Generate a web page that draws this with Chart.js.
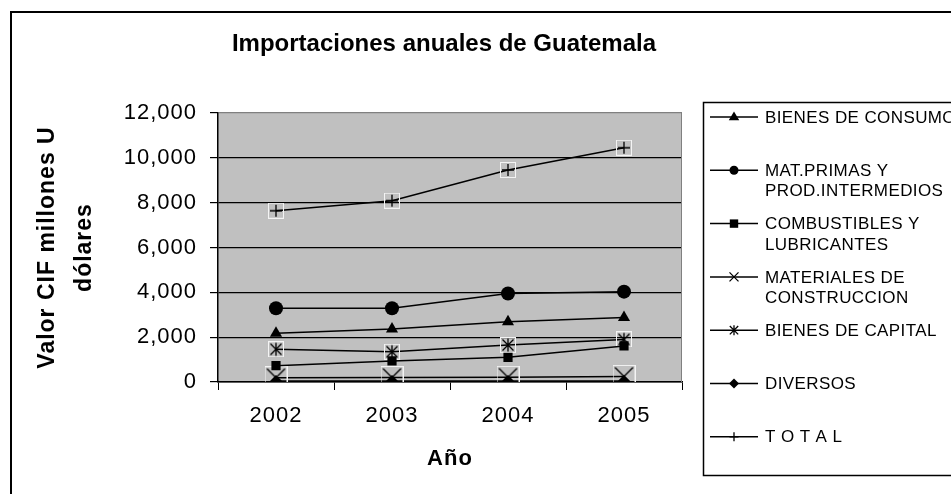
<!DOCTYPE html>
<html>
<head>
<meta charset="utf-8">
<script src="https://cdn.jsdelivr.net/npm/chart.js@4.4.1/dist/chart.umd.min.js"></script>
<style>
  html, body { margin: 0; padding: 0; background: #fff; }
  #wrap { width: 951px; height: 494px; }
</style>
</head>
<body>
<div id="wrap"><canvas id="c" width="951" height="494"></canvas></div>
<script>
// Importaciones CIF de Guatemala, millones de US$
const years = ['2002', '2003', '2004', '2005'];
const bienesConsumo = [2170, 2360, 2690, 2880];
const matPrimas = [3290, 3290, 3950, 4030];
const combustibles = [730, 940, 1100, 1610];
const materialesConstruccion = [190, 200, 210, 250];
const bienesCapital = [1460, 1350, 1650, 1900];
const diversos = [40, 40, 45, 50];
const total = [7640, 8090, 9460, 10450];

const seriesLabels = [
  ['BIENES DE CONSUMO'],
  ['MAT.PRIMAS Y', 'PROD.INTERMEDIOS'],
  ['COMBUSTIBLES Y', 'LUBRICANTES'],
  ['MATERIALES DE', 'CONSTRUCCION'],
  ['BIENES DE CAPITAL'],
  ['DIVERSOS'],
  ['T O T A L']
];
const yTicks = [0, 2000, 4000, 6000, 8000, 10000, 12000];

const FONT = "'Liberation Sans', Arial, sans-serif";

// glyphs used both for the plot markers and the legend keys
function glyph(ctx, kind, x, y, s) {
  ctx.save();
  ctx.fillStyle = '#000';
  ctx.strokeStyle = '#000';
  ctx.lineWidth = 1.3;
  ctx.beginPath();
  if (kind === 'plus') {
    ctx.moveTo(x - s, y); ctx.lineTo(x + s, y);
    ctx.moveTo(x, y - s); ctx.lineTo(x, y + s);
    ctx.stroke();
  } else if (kind === 'x') {
    ctx.moveTo(x - s, y - s); ctx.lineTo(x + s, y + s);
    ctx.moveTo(x + s, y - s); ctx.lineTo(x - s, y + s);
    ctx.stroke();
  } else if (kind === 'star') {
    ctx.moveTo(x - s, y - s); ctx.lineTo(x + s, y + s);
    ctx.moveTo(x + s, y - s); ctx.lineTo(x - s, y + s);
    ctx.moveTo(x, y - s * 1.2); ctx.lineTo(x, y + s * 1.2);
    ctx.stroke();
  } else if (kind === 'triangle') {
    ctx.moveTo(x, y - s); ctx.lineTo(x + s * 0.95, y + s * 0.6); ctx.lineTo(x - s * 0.95, y + s * 0.6);
    ctx.closePath(); ctx.fill();
  } else if (kind === 'circle') {
    ctx.arc(x, y, s, 0, Math.PI * 2); ctx.fill();
  } else if (kind === 'square') {
    ctx.fillRect(x - s, y - s, s * 2, s * 2);
  } else if (kind === 'diamond') {
    ctx.moveTo(x, y - s); ctx.lineTo(x + s, y); ctx.lineTo(x, y + s); ctx.lineTo(x - s, y);
    ctx.closePath(); ctx.fill();
  }
  ctx.restore();
}

// marker image: light square frame around a line glyph
function boxedMarker(size, kind, s) {
  const c = document.createElement('canvas');
  c.width = size; c.height = size;
  const g = c.getContext('2d');
  g.strokeStyle = '#f4f4f4';
  g.lineWidth = 1;
  g.strokeRect(0.5, 0.5, size - 1, size - 1);
  glyph(g, kind, size / 2, size / 2, s);
  return c;
}

const plusMarker = boxedMarker(16, 'plus', 6);
const xMarker = boxedMarker(23, 'x', 9);
const starMarker = boxedMarker(16, 'star', 5.5);

function series(label, data, style, radius, legendKind, legendSize) {
  return {
    label, data,
    borderColor: '#000', backgroundColor: '#000', borderWidth: 1.5,
    pointStyle: style, pointRadius: radius, pointHoverRadius: radius,
    pointBorderWidth: 0, pointBackgroundColor: '#000', pointBorderColor: '#000',
    tension: 0, fill: false,
    legendKind, legendSize
  };
}

const datasets = [
  series(seriesLabels[0].join(' '), bienesConsumo, 'triangle', 7, 'triangle', 5.5),
  series(seriesLabels[1].join(' '), matPrimas, 'circle', 7, 'circle', 4.5),
  series(seriesLabels[2].join(' '), combustibles, 'rect', 6.5, 'square', 4.2),
  series(seriesLabels[3].join(' '), materialesConstruccion, xMarker, 11, 'x', 4.5),
  series(seriesLabels[4].join(' '), bienesCapital, starMarker, 8, 'star', 4.2),
  series(seriesLabels[5].join(' '), diversos, 'rectRot', 6, 'diamond', 5),
  series(seriesLabels[6].join(' '), total, plusMarker, 8, 'plus', 4.5)
];

const frame = {
  id: 'frame',
  beforeDraw(chart) {
    const { ctx, chartArea: a } = chart;
    ctx.save();
    ctx.fillStyle = '#fff';
    ctx.fillRect(0, 0, chart.width, chart.height);
    ctx.fillStyle = '#c0c0c0';
    ctx.fillRect(a.left, a.top, a.right - a.left, a.bottom - a.top);
    ctx.restore();
    // slightly open tracking for the axis texts
    ctx.letterSpacing = '1px';
  },
  beforeDatasetsDraw(chart) {
    const { ctx, chartArea: a } = chart;
    ctx.save();
    ctx.strokeStyle = '#808080';
    ctx.lineWidth = 1;
    ctx.beginPath();
    ctx.moveTo(a.right - 0.5, a.top);
    ctx.lineTo(a.right - 0.5, a.bottom);
    ctx.stroke();
    ctx.restore();
  },
  afterDraw(chart) {
    const ctx = chart.ctx;
    ctx.save();
    // outer frame
    ctx.strokeStyle = '#000';
    ctx.lineWidth = 2;
    ctx.beginPath();
    ctx.moveTo(11, 500); ctx.lineTo(11, 12); ctx.lineTo(960, 12);
    ctx.stroke();

    // title
    ctx.fillStyle = '#000';
    ctx.letterSpacing = '0px';
    ctx.font = 'bold 24px ' + FONT;
    ctx.textAlign = 'center';
    ctx.textBaseline = 'middle';
    ctx.fillText('Importaciones anuales de Guatemala', 444, 44);

    // legend box
    ctx.lineWidth = 1.5;
    ctx.strokeRect(703.5, 102.5, 300, 373);

    ctx.letterSpacing = '0.4px';
    ctx.font = '17px ' + FONT;
    ctx.textAlign = 'left';
    chart.data.datasets.forEach((ds, i) => {
      const y = 117 + i * 53.3;
      ctx.strokeStyle = '#000';
      ctx.lineWidth = 1.5;
      ctx.beginPath();
      ctx.moveTo(710, y); ctx.lineTo(758, y);
      ctx.stroke();
      glyph(ctx, ds.legendKind, 734, y, ds.legendSize);
      ctx.fillStyle = '#000';
      seriesLabels[i].forEach((t, j) => ctx.fillText(t, 765, y + 1 + j * 20.5));
    });
    ctx.restore();
  }
};

new Chart(document.getElementById('c'), {
  type: 'line',
  data: { labels: years, datasets },
  plugins: [frame],
  options: {
    responsive: false,
    animation: false,
    devicePixelRatio: 1,
    layout: { padding: { top: 113, right: 269, left: 0, bottom: 0 } },
    plugins: { legend: { display: false }, title: { display: false }, tooltip: { enabled: false } },
    scales: {
      x: {
        offset: true,
        afterFit(scale) { scale.height = 112; },
        grid: { offset: true, drawOnChartArea: false, drawTicks: true, tickLength: 8, color: '#000', tickColor: '#000', lineWidth: 1 },
        border: { display: true, color: '#000', width: 1.5 },
        ticks: { color: '#000', font: { family: FONT, size: 22 }, padding: 13, maxRotation: 0 },
        title: { display: true, text: 'Año', color: '#000', font: { family: FONT, size: 22, weight: 'bold' }, padding: { top: 0, bottom: 22 } }
      },
      y: {
        min: 0, max: 12000,
        afterFit(scale) { scale.width = 218; },
        afterBuildTicks(scale) { scale.ticks = yTicks.map(v => ({ value: v })); },
        grid: {
          drawTicks: true, tickLength: 8, lineWidth: 1.2, tickColor: '#000',
          color: c => (c.tick && c.tick.value === 12000) ? '#808080' : '#000'
        },
        border: { display: true, color: '#000', width: 1.5 },
        ticks: {
          color: '#000', font: { family: FONT, size: 22 }, padding: 13,
          callback: v => Number(v).toLocaleString('en-US')
        },
        title: {
          display: true, text: ['Valor CIF millones U', 'dólares'], color: '#000',
          font: { family: FONT, size: 23, weight: 'bold', lineHeight: 1.6 },
          padding: { top: 29, bottom: 0 }
        }
      }
    }
  }
});
</script>
</body>
</html>
